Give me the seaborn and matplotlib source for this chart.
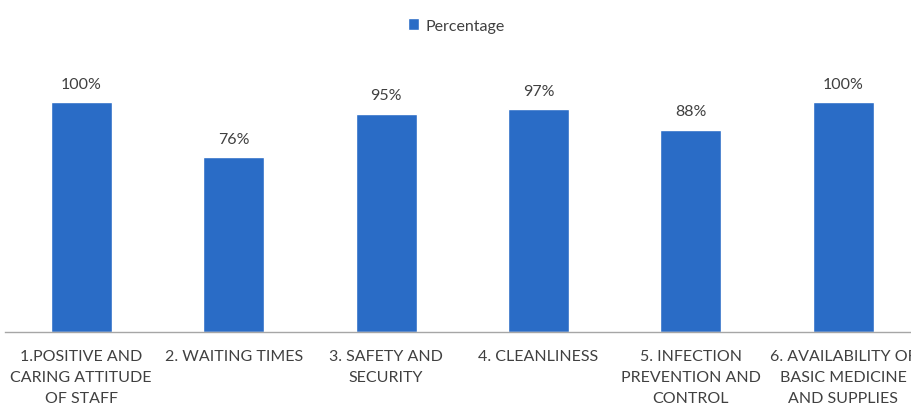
import matplotlib
matplotlib.use("Agg")
import matplotlib.pyplot as plt
import seaborn as sns
import pandas as pd

categories = [
    "1.POSITIVE AND\nCARING ATTITUDE\nOF STAFF",
    "2. WAITING TIMES",
    "3. SAFETY AND\nSECURITY",
    "4. CLEANLINESS",
    "5. INFECTION\nPREVENTION AND\nCONTROL",
    "6. AVAILABILITY OF\nBASIC MEDICINE\nAND SUPPLIES",
]
values = [100, 76, 95, 97, 88, 100]
series_name = "Percentage"

sns.set_theme(style="white")
plt.rcParams['font.family'] = ['Lato', 'DejaVu Sans']

df = pd.DataFrame({"Category": categories, "Value": values, "Series": series_name})

fig = plt.figure(figsize=(9.12, 4.10), dpi=100)
ax = fig.add_axes([5/912, 77/410, 907/912, 276/410])
bar_color = "#2A6CC6"
sns.barplot(data=df, x="Category", y="Value", hue="Series", palette=[bar_color],
            width=0.4, saturation=1, ax=ax, legend=True)

ax.set_ylim(0, 120)
ax.set_xlim(-0.5, 5.45)
ax.set_xlabel("")
ax.set_ylabel("")
ax.set_yticks([])
for s in ["top", "right", "left"]:
    ax.spines[s].set_visible(False)
ax.spines["bottom"].set_color("#A6A6A6")
ax.spines["bottom"].set_linewidth(1.0)
ax.tick_params(axis="x", length=0, pad=12, labelsize=11.5, colors="#404040")
for lbl in ax.get_xticklabels():
    lbl.set_linespacing(1.65)

for cont in ax.containers:
    ax.bar_label(cont, labels=[f"{v}%" for v in values], padding=8,
                 fontsize=11.5, color="#404040")

leg = ax.legend(loc="upper center", frameon=False,
                fontsize=11.5, handlelength=0.7, handleheight=0.7, handletextpad=0.4,
                labelcolor="#404040")
leg.set_bbox_to_anchor((0.5, 405/410), transform=fig.transFigure)

fig.savefig("out.png", dpi=100)
